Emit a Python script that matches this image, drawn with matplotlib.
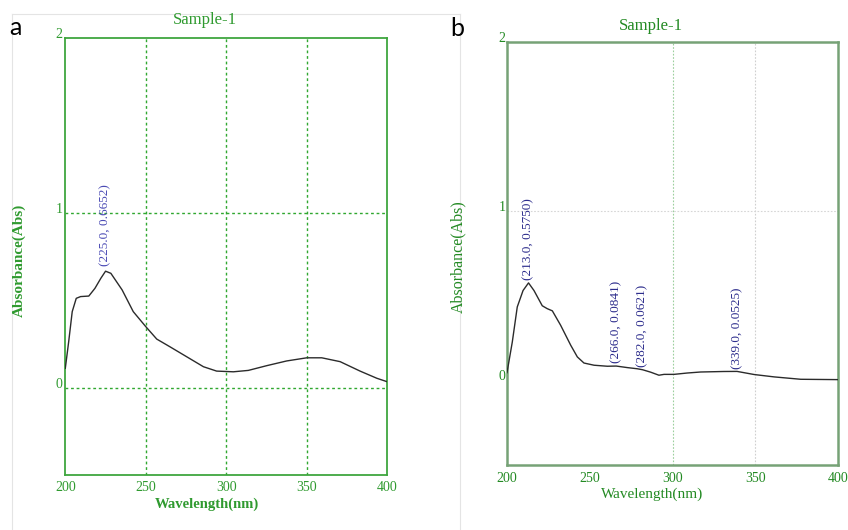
import matplotlib
matplotlib.use("Agg")
import matplotlib.pyplot as plt
from matplotlib.lines import Line2D

# ---- spectra ----
wl_a = [200, 202.1, 204.3, 206.8, 209.5, 214.6, 218.4, 222.1, 225.0, 228.3, 235.3,
        242.2, 250, 256.8, 265, 275.4, 285.8, 294, 304.4, 313.7, 325.1, 337.5,
        350, 359.3, 370.7, 383.1, 393.5, 400]
abs_a = [0.11, 0.262, 0.434, 0.51, 0.52, 0.523, 0.567, 0.625, 0.6652, 0.653, 0.558,
         0.434, 0.348, 0.277, 0.233, 0.176, 0.119, 0.094, 0.09, 0.098, 0.125, 0.152,
         0.17, 0.17, 0.148, 0.094, 0.053, 0.033]

wl_b = [200, 203.2, 206.2, 209.7, 213.0, 216.3, 221.3, 224.3, 227.4, 232.4, 238.5,
        242.5, 246.5, 252.6, 260.6, 266.0, 272.7, 278.8, 282.0, 286.8, 291.8, 294.9,
        300.9, 308.9, 317, 331, 339.0, 349.4, 361.5, 377.5, 400]
abs_b = [0.045, 0.226, 0.433, 0.53, 0.5750, 0.53, 0.44, 0.423, 0.41, 0.325, 0.207,
         0.138, 0.102, 0.089, 0.083, 0.0841, 0.075, 0.068, 0.0621, 0.048, 0.03, 0.035,
         0.035, 0.043, 0.049, 0.052, 0.0525, 0.034, 0.02, 0.006, 0.004]

# labelled peaks (wavelength, absorbance)
peaks_a = [(225.0, 0.6652)]
peaks_b = [(213.0, 0.5750), (266.0, 0.0841), (282.0, 0.0621), (339.0, 0.0525)]

x_ticks = [200, 250, 300, 350, 400]
y_ticks = [0, 1, 2]

W, H = 848, 530
SERIF = "Liberation Serif"


def fx(px):
    return px / W


def fy(py):
    return 1 - py / H


fig = plt.figure(figsize=(W / 100, H / 100), dpi=100)
fig.patch.set_facecolor("white")

# faint frame lines around the left panel
for xs, ys in [([12, 12], [14, 530]), ([12, 460], [14, 14]), ([460, 460], [14, 530])]:
    fig.add_artist(Line2D([fx(v) for v in xs], [fy(v) for v in ys],
                          transform=fig.transFigure, color="#e4e4e4", lw=0.8))

ax_a = fig.add_axes([fx(65.3), fy(475), fx(387.3 - 65.3), (475 - 37.7) / H])
ax_b = fig.add_axes([fx(507), fy(465), fx(838 - 507), (465 - 41.5) / H])


def style_axes(ax, frame_color, frame_lw, text_color, xpad, ypad):
    ax.set_xlim(200, 400)
    ax.set_ylim(-0.5, 2)
    ax.set_xticks(x_ticks)
    ax.set_yticks(y_ticks)
    ax.set_xticklabels([str(v) for v in x_ticks])
    ax.set_yticklabels([str(v) for v in y_ticks])
    ax.tick_params(axis="both", length=0, labelsize=10, labelcolor=text_color)
    ax.tick_params(axis="x", pad=xpad)
    ax.tick_params(axis="y", pad=ypad)
    for lab in ax.get_xticklabels() + ax.get_yticklabels():
        lab.set_fontfamily(SERIF)
    for lab in ax.get_yticklabels():
        lab.set_va("baseline")
    for s in ax.spines.values():
        s.set_color(frame_color)
        s.set_linewidth(frame_lw)
    ax.set_facecolor("white")


# ---- panel a ----
green_a = "#2f9a2f"
style_axes(ax_a, "#3fa63f", 1.3, green_a, 4, 2)
for xv in [250, 300, 350]:
    ax_a.axvline(xv, color="#30a830", lw=1.0, ls=(0, (2, 2)), zorder=1)
for yv in [0, 1]:
    ax_a.axhline(yv, color="#30a830", lw=1.0, ls=(0, (2, 2)), zorder=1)
ax_a.plot(wl_a, abs_a, color="#2b2b2b", lw=1.0, zorder=3)
for px, py in peaks_a:
    ax_a.annotate(f"({px:.1f}, {py:.4f})", xy=(px, py), xytext=(0, 4),
                  textcoords="offset points", rotation=90, ha="center", va="bottom",
                  fontsize=9.5, family=SERIF, color="#4a4ab4")

fig.text(fx(205), fy(20), "Sample-1", ha="center", va="center",
         fontsize=12, family=SERIF, color=green_a)
fig.text(fx(206.5), fy(504), "Wavelength(nm)", ha="center", va="center",
         fontsize=10.5, family=SERIF, weight="bold", color=green_a)
fig.text(fx(19), fy(260), "Absorbance(Abs)", ha="center", va="center", rotation=90,
         fontsize=11, family=SERIF, weight="bold", color=green_a)

# ---- panel b ----
green_b = "#238a23"
style_axes(ax_b, "#76a276", 1.8, green_b, 5, 1)
ax_b.axvline(300, color="#9ccf9c", lw=0.8, ls=(0, (1.5, 1.5)), zorder=1)
ax_b.axvline(350, color="#cfcfcf", lw=0.8, ls=(0, (1.5, 1.5)), zorder=1)
ax_b.axhline(1, color="#d6d6d6", lw=0.8, ls=(0, (1.5, 1.5)), zorder=1)
ax_b.plot(wl_b, abs_b, color="#2b2b2b", lw=1.0, zorder=3)
for px, py in peaks_b:
    ax_b.annotate(f"({px:.1f}, {py:.4f})", xy=(px, py), xytext=(0, 2),
                  textcoords="offset points", rotation=90, ha="center", va="bottom",
                  fontsize=9.5, family=SERIF, color="#2c2c8c")

fig.text(fx(650.5), fy(26), "Sample-1", ha="center", va="center",
         fontsize=12, family=SERIF, color=green_b)
fig.text(fx(652), fy(494), "Wavelength(nm)", ha="center", va="center",
         fontsize=11, family=SERIF, color=green_b)
fig.text(fx(458.5), fy(257), "Absorbance(Abs)", ha="center", va="center", rotation=90,
         fontsize=11.5, family=SERIF, color=green_b)

# panel letters
fig.text(fx(9), fy(35), "a", ha="left", va="baseline", fontsize=18, family="Lato",
         color="black")
fig.text(fx(450), fy(36), "b", ha="left", va="baseline", fontsize=18, family="Lato",
         color="black")

fig.savefig("out.png", dpi=100, facecolor="white")
